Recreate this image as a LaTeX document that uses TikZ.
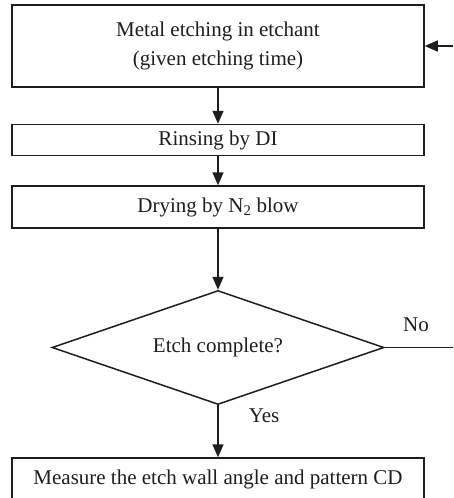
\documentclass[tikz,border=0pt]{standalone}
\usepackage{fontspec}
\setmainfont{Liberation Serif}
\usepackage{tikz}
\usetikzlibrary{
  arrows.meta,
  positioning,
  shapes.geometric
}
\definecolor{ink}{HTML}{1E1E1E}
\tikzset{
  flow/.style={
    -{Triangle[length=13pt,width=11pt]},
    line width=1.5pt,
    draw=ink
  },
  stepbox/.style={
    draw=ink,
    line width=1.5pt,
    minimum width=412pt,
    align=center,
    inner sep=2pt,
    text=ink
  },
  decision/.style={
    diamond,
    aspect=2.9,
    draw=ink,
    line width=1.5pt,
    minimum width=332pt,
    minimum height=114pt,
    inner sep=1pt,
    text=ink
  },
  answer/.style={
    inner sep=1pt,
    text=ink
  }
}

\begin{document}
\begin{tikzpicture}[x=1pt, y=-1pt, font=\fontsize{21}{29}\selectfont]
  \clip (0,0) rectangle (453,498);
  \node[stepbox, minimum height=82pt] (etch) at (218,46) {Metal etching in etchant\\(given etching time)};
  \node[stepbox, minimum height=31pt, below=36pt of etch] (rinse) {Rinsing by DI};
  \node[stepbox, minimum height=42pt, below=29pt of rinse] (dry) {Drying by N\textsubscript{2} blow};
  \node[decision, below=61pt of dry] (done) {Etch complete?};
  \node[stepbox, minimum height=56pt, text height=21pt, text depth=25pt,
        below=52pt of done] (measure) {Measure the etch wall angle and pattern CD};
  \coordinate[right=78pt of done.east] (back);
  \draw[flow] (etch) -- (rinse);
  \draw[flow] (rinse) -- (dry);
  \draw[flow] (dry) -- (done);
  \draw[flow] (done) -- node[answer, pos=0.2, right=29pt] {Yes} (measure);
  \draw[flow] (done.east) -- node[answer, above=14pt, pos=0.4] {No} (back) |- (etch.east);
\end{tikzpicture}
\end{document}
